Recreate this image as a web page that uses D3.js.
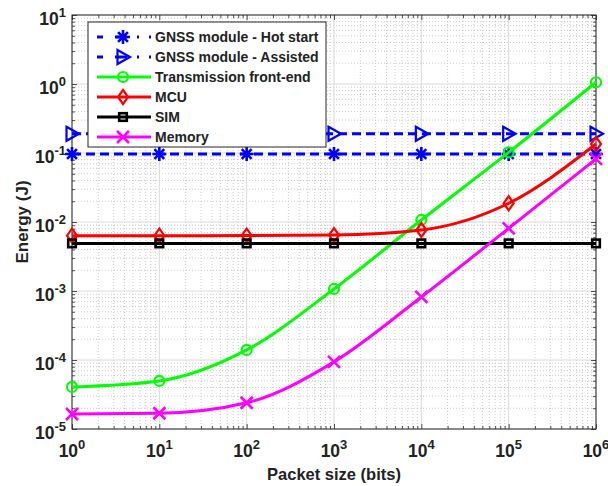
<!DOCTYPE html>
<html>
<head>
<meta charset="utf-8">
<script src="https://cdn.jsdelivr.net/npm/d3@7"></script>
<style>
  html, body { margin: 0; padding: 0; background: #fff; }
  svg { display: block; }
  text { font-family: "Liberation Sans", Arial, Helvetica, sans-serif; font-weight: bold; fill: #222; }
</style>
</head>
<body>
<svg id="chart" width="608" height="486"></svg>
<script>
// ---------- data ----------
const packetSizes = [1, 10, 100, 1000, 1e4, 1e5, 1e6];
const gnssHotStart = [0.0967, 0.0967, 0.0967, 0.0967, 0.0967, 0.0967, 0.0967];
const gnssAssisted = [0.19, 0.19, 0.19, 0.19, 0.19, 0.19, 0.19];
const transmission = [4.07e-5, 4.97e-5, 1.40e-4, 1.07e-3, 1.07e-2, 0.102, 1.06];
const mcu = [0.00634, 0.00634, 0.00636, 0.00647, 0.00766, 0.0187, 0.135];
const sim = [0.0049, 0.0049, 0.0049, 0.0049, 0.0049, 0.0049, 0.0049];
const memory = [1.65e-5, 1.69e-5, 2.40e-5, 9.4e-5, 8.2e-4, 8.1e-3, 0.082];
const seriesNames = ["GNSS module - Hot start", "GNSS module - Assisted", "Transmission front-end", "MCU", "SIM", "Memory"];
const xTickExps = [0, 1, 2, 3, 4, 5, 6];
const yTickExps = [-5, -4, -3, -2, -1, 0, 1];
const xLabel = "Packet size (bits)";
const yLabel = "Energy (J)";

const series = [
  { name: seriesNames[0], values: gnssHotStart, color: "#0000ff", dash: "9,5", marker: "asterisk" },
  { name: seriesNames[1], values: gnssAssisted, color: "#0000ff", dash: "9,5", marker: "triRight" },
  { name: seriesNames[2], values: transmission, color: "#00ff00", dash: null, marker: "circle" },
  { name: seriesNames[3], values: mcu, color: "#ff0000", dash: null, marker: "diamond" },
  { name: seriesNames[4], values: sim, color: "#000000", dash: null, marker: "square" },
  { name: seriesNames[5], values: memory, color: "#ff00ff", dash: null, marker: "cross" }
];

// ---------- layout ----------
const L = 72, R = 596, T = 15, B = 429;
const svg = d3.select("#chart");
const x = d3.scaleLog().domain([1, 1e6]).range([L, R]);
const y = d3.scaleLog().domain([1e-5, 10]).range([B, T]);

// minor values
const minorX = [], minorY = [];
for (let e = 0; e < 6; e++) for (let m = 2; m <= 9; m++) minorX.push(m * Math.pow(10, e));
for (let e = -5; e < 1; e++) for (let m = 2; m <= 9; m++) minorY.push(m * Math.pow(10, e));
const majorX = xTickExps.map(e => Math.pow(10, e));
const majorY = yTickExps.map(e => Math.pow(10, e));

// ---------- grid ----------
const grid = svg.append("g");
grid.selectAll(".mgx").data(minorX).join("line")
  .attr("x1", d => x(d)).attr("x2", d => x(d)).attr("y1", T).attr("y2", B)
  .attr("stroke", "#bdbdbd").attr("stroke-width", 0.8).attr("stroke-dasharray", "1,2");
grid.selectAll(".mgy").data(minorY).join("line")
  .attr("y1", d => y(d)).attr("y2", d => y(d)).attr("x1", L).attr("x2", R)
  .attr("stroke", "#bdbdbd").attr("stroke-width", 0.8).attr("stroke-dasharray", "1,2");
grid.selectAll(".Mgx").data(majorX).join("line")
  .attr("x1", d => x(d)).attr("x2", d => x(d)).attr("y1", T).attr("y2", B)
  .attr("stroke", "#dadada").attr("stroke-width", 1);
grid.selectAll(".Mgy").data(majorY).join("line")
  .attr("y1", d => y(d)).attr("y2", d => y(d)).attr("x1", L).attr("x2", R)
  .attr("stroke", "#dadada").attr("stroke-width", 1);

// ---------- axes (ticks inside, box) ----------
const axCol = "#262626";
function styleAxis(g) {
  g.select(".domain").remove();
  g.selectAll("line").attr("stroke", axCol).attr("stroke-width", 0.8);
}
svg.append("g").attr("transform", `translate(0,${B})`)
  .call(d3.axisBottom(x).tickValues(majorX).tickSize(-5).tickFormat("")).call(styleAxis);
svg.append("g").attr("transform", `translate(0,${B})`)
  .call(d3.axisBottom(x).tickValues(minorX).tickSize(-3).tickFormat("")).call(styleAxis);
svg.append("g").attr("transform", `translate(0,${T})`)
  .call(d3.axisTop(x).tickValues(majorX).tickSize(-5).tickFormat("")).call(styleAxis);
svg.append("g").attr("transform", `translate(0,${T})`)
  .call(d3.axisTop(x).tickValues(minorX).tickSize(-3).tickFormat("")).call(styleAxis);
svg.append("g").attr("transform", `translate(${L},0)`)
  .call(d3.axisLeft(y).tickValues(majorY).tickSize(-5).tickFormat("")).call(styleAxis);
svg.append("g").attr("transform", `translate(${L},0)`)
  .call(d3.axisLeft(y).tickValues(minorY).tickSize(-3).tickFormat("")).call(styleAxis);
svg.append("g").attr("transform", `translate(${R},0)`)
  .call(d3.axisRight(y).tickValues(majorY).tickSize(-5).tickFormat("")).call(styleAxis);
svg.append("g").attr("transform", `translate(${R},0)`)
  .call(d3.axisRight(y).tickValues(minorY).tickSize(-3).tickFormat("")).call(styleAxis);

svg.append("rect").attr("x", L).attr("y", T).attr("width", R - L).attr("height", B - T)
  .attr("fill", "none").attr("stroke", axCol).attr("stroke-width", 1);

// tick labels with superscripts
const xl = svg.append("g");
xTickExps.forEach(e => {
  const t = xl.append("text").attr("x", x(Math.pow(10, e))).attr("y", B + 28)
    .attr("text-anchor", "middle").style("font-size", "17.5px");
  t.append("tspan").text("10");
  t.append("tspan").attr("dy", -8).style("font-size", "13px").text(e);
});
const yl = svg.append("g");
yTickExps.forEach(e => {
  const t = yl.append("text").attr("x", 66).attr("y", y(Math.pow(10, e)) + 10)
    .attr("text-anchor", "end").style("font-size", "17.5px");
  t.append("tspan").text("10");
  t.append("tspan").attr("dy", -8).style("font-size", "13px").text(e);
});

// axis titles
svg.append("text").attr("x", (L + R) / 2).attr("y", 480).attr("text-anchor", "middle")
  .style("font-size", "16.5px").text(xLabel);
svg.append("text").attr("transform", `translate(28,${(T + B) / 2}) rotate(-90)`)
  .attr("text-anchor", "middle").style("font-size", "17px").text(yLabel);

// ---------- markers ----------
function drawMarker(g, type, cx, cy, color) {
  const sw = 2.2;
  if (type === "asterisk") {
    const r = 7;
    const p = [];
    for (let a = 0; a < 4; a++) {
      const ang = a * Math.PI / 4;
      p.push(`M${cx - r * Math.cos(ang)},${cy - r * Math.sin(ang)}L${cx + r * Math.cos(ang)},${cy + r * Math.sin(ang)}`);
    }
    g.append("path").attr("d", p.join("")).attr("stroke", color).attr("stroke-width", 2.6).attr("fill", "none");
  } else if (type === "triRight") {
    g.append("path").attr("d", `M${cx - 5.5},${cy - 7}L${cx + 7},${cy}L${cx - 5.5},${cy + 7}Z`)
      .attr("stroke", color).attr("stroke-width", sw).attr("fill", "none");
  } else if (type === "circle") {
    g.append("circle").attr("cx", cx).attr("cy", cy).attr("r", 5)
      .attr("stroke", color).attr("stroke-width", sw).attr("fill", "none");
  } else if (type === "diamond") {
    g.append("path").attr("d", `M${cx},${cy - 7}L${cx + 5},${cy}L${cx},${cy + 7}L${cx - 5},${cy}Z`)
      .attr("stroke", color).attr("stroke-width", sw).attr("fill", "none");
  } else if (type === "square") {
    g.append("rect").attr("x", cx - 3.8).attr("y", cy - 3.8).attr("width", 7.6).attr("height", 7.6)
      .attr("stroke", color).attr("stroke-width", 2.6).attr("fill", "none");
  } else if (type === "cross") {
    const r = 6;
    g.append("path").attr("d", `M${cx - r},${cy - r}L${cx + r},${cy + r}M${cx - r},${cy + r}L${cx + r},${cy - r}`)
      .attr("stroke", color).attr("stroke-width", 2.6).attr("fill", "none");
  }
}

// ---------- lines ----------
const lineGen = d3.line()
  .x(d => x(d[0])).y(d => y(d[1]))
  .curve(d3.curveMonotoneX);

const plot = svg.append("g");
series.forEach(s => {
  const pts = packetSizes.map((p, i) => [p, s.values[i]]);
  const g = plot.append("g");
  g.append("path").attr("d", lineGen(pts)).attr("fill", "none")
    .attr("stroke", s.color).attr("stroke-width", 3)
    .attr("stroke-dasharray", s.dash);
  pts.forEach(p => drawMarker(g, s.marker, x(p[0]), y(p[1]), s.color));
});

// ---------- legend ----------
const lg = svg.append("g");
lg.append("rect").attr("x", 88).attr("y", 22).attr("width", 238).attr("height", 125)
  .attr("fill", "#fff").attr("stroke", axCol).attr("stroke-width", 1);
series.forEach((s, i) => {
  const cy = 37 + i * 20;
  lg.append("line").attr("x1", 97).attr("x2", 151).attr("y1", cy).attr("y2", cy)
    .attr("stroke", s.color).attr("stroke-width", 3)
    .attr("stroke-dasharray", s.dash ? "6,12,12,10,2,10" : null);
  drawMarker(lg, s.marker, 123, cy, s.color);
  lg.append("text").attr("x", 155).attr("y", cy + 5).style("font-size", "14px").text(s.name);
});
</script>
</body>
</html>
